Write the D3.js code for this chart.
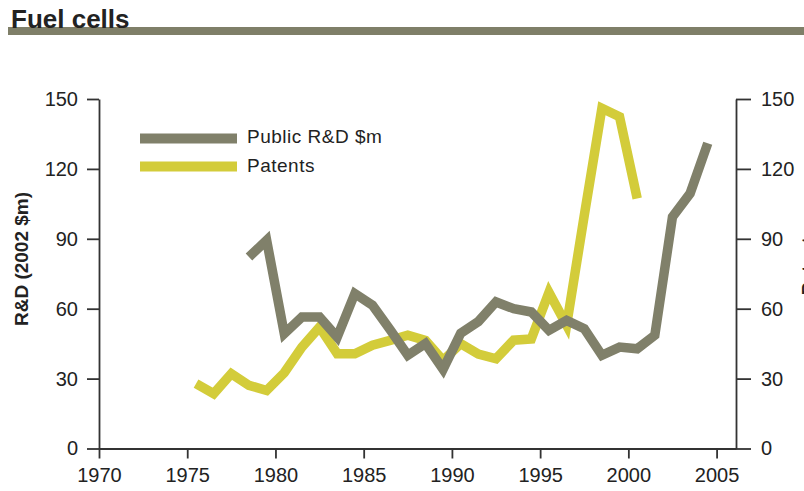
<!DOCTYPE html>
<html><head><meta charset="utf-8">
<script src="https://cdn.jsdelivr.net/npm/d3@7"></script>
<style>
body{margin:0;background:#fff;}
svg text{font-family:"Liberation Sans",Arial,Helvetica,sans-serif;fill:#222;}
</style></head>
<body><svg id="c" width="804" height="491"></svg>
<script>
const title = "Fuel cells";
const leftTitle = "R&D (2002 $m)";
const rightTitle = "Patents";
const seriesNames = ["Public R&D $m", "Patents"];
const xTicks = [1970, 1975, 1980, 1985, 1990, 1995, 2000, 2005];
const yTicks = [0, 30, 60, 90, 120, 150];

const rdYears = [1978,1979,1980,1981,1982,1983,1984,1985,1986,1987,1988,1989,1990,1991,1992,1993,1994,1995,1996,1997,1998,1999,2000,2001,2002,2003,2004];
const rdValues = [82.2,89.4,49.3,56.4,56.4,47.8,66.5,61.5,51,40,45,34,49.5,54.5,62.9,60,58.6,50.7,55,51.4,40,43.5,42.8,48.6,99.4,109.5,131];

const patYears = [1975,1976,1977,1978,1979,1980,1981,1982,1983,1984,1985,1986,1987,1988,1989,1990,1991,1992,1993,1994,1995,1996,1997,1998,1999,2000];
const patValues = [27.8,23.5,32.1,27.1,24.9,32.5,43.5,52.1,40.7,40.7,44.3,46.4,48.6,46.4,37.8,45,40.5,38.5,46.5,47,67,52.9,100,146,142.4,107.3];

const gray = "#80806a", yellow = "#d3cc3a", axisCol = "#333";
const svg = d3.select("#c");

// title + rule
svg.append("rect").attr("x", 8).attr("y", 27).attr("width", 796).attr("height", 8).attr("fill", "#7f7f68");
svg.append("text").attr("x", 11).attr("y", 28).attr("font-size", 26).attr("font-weight", "bold").attr("fill", "#222").text(title);

const x = d3.scaleLinear().domain([1970, 2006.1]).range([99, 736]);
const y = d3.scaleLinear().domain([0, 150]).range([448.5, 99]);

function styleAxis(g) {
  g.selectAll("path,line").attr("stroke", axisCol).attr("stroke-width", 1.8);
  g.selectAll("text").attr("font-size", 20).attr("fill", "#222").style("font-family", '"Liberation Sans",Arial,sans-serif');
}

const gx = svg.append("g").attr("transform", `translate(0,${y(0)})`)
  .call(d3.axisBottom(x).tickValues(xTicks).tickFormat(d3.format("d")).tickSize(10).tickSizeOuter(0).tickPadding(8));
styleAxis(gx);
gx.selectAll("text").attr("dy", "0.78em");

const gl = svg.append("g").attr("transform", `translate(${x.range()[0]},0)`)
  .call(d3.axisLeft(y).tickValues(yTicks).tickSize(12).tickSizeOuter(0).tickPadding(9));
styleAxis(gl);

const gr = svg.append("g").attr("transform", `translate(${x.range()[1]},0)`)
  .call(d3.axisRight(y).tickValues(yTicks).tickSize(15).tickSizeOuter(0).tickPadding(10));
styleAxis(gr);

svg.append("text").attr("transform", "translate(28,259) rotate(-90)").attr("text-anchor", "middle")
  .attr("font-size", 19).attr("font-weight", "bold").text(leftTitle);
svg.append("text").attr("transform", "translate(815,261) rotate(-90)").attr("text-anchor", "middle")
  .attr("font-size", 19).attr("font-weight", "bold").text(rightTitle);

const line = d3.line().x(d => x(d[0] + 0.5)).y(d => y(d[1]));
const patData = patYears.map((yr, i) => [yr, patValues[i]]);
const rdData = rdYears.map((yr, i) => [yr, rdValues[i]]);

svg.append("path").datum(patData).attr("d", line).attr("fill", "none")
  .attr("stroke", yellow).attr("stroke-width", 9.5).attr("stroke-linejoin", "miter");
svg.append("path").datum(rdData).attr("d", line).attr("fill", "none")
  .attr("stroke", gray).attr("stroke-width", 9.5).attr("stroke-linejoin", "miter");

// legend
const leg = svg.append("g");
[[seriesNames[0], gray, 138.5, 142.5], [seriesNames[1], yellow, 166.5, 171.5]].forEach(([name, col, ly, ty]) => {
  leg.append("line").attr("x1", 140).attr("x2", 237).attr("y1", ly).attr("y2", ly)
    .attr("stroke", col).attr("stroke-width", 10);
  leg.append("text").attr("x", 247).attr("y", ty).attr("font-size", 19).attr("letter-spacing", 0.5).text(name);
});
</script></body></html>
